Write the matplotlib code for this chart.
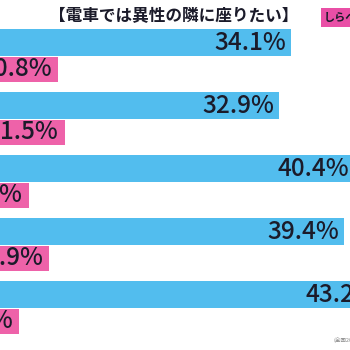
import numpy as np
import matplotlib.pyplot as plt

# ----------------------------------------------------------------------------------------------------------------------

title = '【電車では異性の隣に座りたい】'
blue_vals = [34.1, 32.9, 40.4, 39.4, 43.2]
pink_vals = [10.8, 11.5, 7.9, 9.9, 6.9]

BLUE = '#52BDEE'
PINK = '#EE62A9'
TEXT = '#1b1b2a'

plt.rcParams['font.family'] = ['Noto Sans CJK JP', 'DejaVu Sans']

# ----------------------------------------------------------------------------------------------------------------------

fig = plt.figure(figsize=(3.5, 3.5), dpi=100)
ax = fig.add_axes([0, 0, 1, 1])

pos = np.arange(len(blue_vals))
ax.barh(pos - 0.21, blue_vals, height=0.43, color=BLUE)
ax.barh(pos + 0.215, pink_vals, height=0.40, color=PINK)

for p, v in zip(pos, blue_vals):
    ax.annotate(f'{v}%', (v, p - 0.21), xytext=(-3.6, 0), textcoords='offset points',
                ha='right', va='center', fontsize=17.5, color=TEXT, fontweight='medium',
                annotation_clip=False)
for p, v in zip(pos, pink_vals):
    ax.annotate(f'{v}%', (v, p + 0.215), xytext=(-4.3, 0), textcoords='offset points',
                ha='right', va='center', fontsize=17.5, color=TEXT, fontweight='medium',
                annotation_clip=False)

ax.set_xlim(5, 40)
ax.set_ylim(4.67, -0.885)
ax.axis('off')

fig.text(0.497, 0.955, title, ha='center', va='center', fontsize=12, fontweight='bold', color=TEXT)
fig.text(0.925, 0.95, 'しらべぇ', ha='left', va='center', fontsize=8, fontweight='bold', color=TEXT,
         bbox=dict(boxstyle='square,pad=0.25', fc='#E94FA6', ec='none'))
fig.text(0.952, 0.03, '(全国20代～60代', ha='left', va='center', fontsize=4, color='#888888')

fig.savefig('out.png', dpi=100)
print('Main done.')
